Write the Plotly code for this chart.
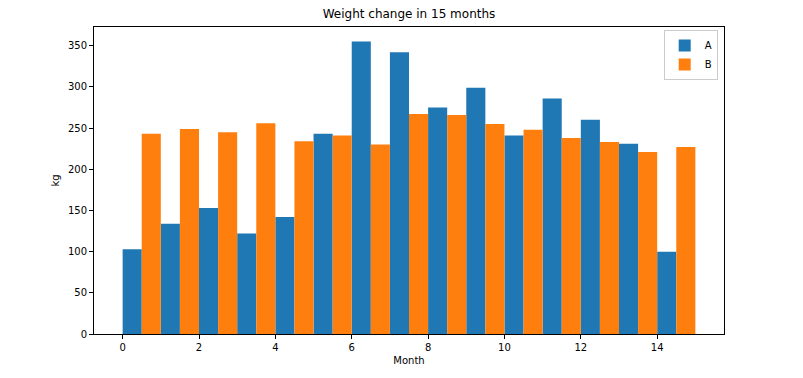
import plotly.graph_objects as go

months = list(range(15))
series_a = [103, 134, 153, 122, 142, 243, 355, 342, 275, 299, 241, 286, 260, 231, 100]
series_b = [243, 249, 245, 256, 234, 241, 230, 267, 266, 255, 248, 238, 233, 221, 227]
x_ticks = [0, 2, 4, 6, 8, 10, 12, 14]
y_ticks = [0, 50, 100, 150, 200, 250, 300, 350]

fig = go.Figure()
fig.add_trace(go.Bar(x=months, y=series_a, name="A", offset=0, width=0.5,
                     marker=dict(color="#1f77b4", line=dict(width=0))))
fig.add_trace(go.Bar(x=months, y=series_b, name="B", offset=0.5, width=0.5,
                     marker=dict(color="#ff7f0e", line=dict(width=0))))

axis_common = dict(showline=True, linecolor="black", linewidth=1, mirror=True,
                   ticks="outside", ticklen=4, tickcolor="black", showgrid=False,
                   zeroline=False, tickfont=dict(size=10, color="black"))

# page body has an 8px default margin, so the figure is sized to fit the window
fig.update_layout(
    width=795, height=370,
    margin=dict(l=86, r=79, t=19, b=44),
    paper_bgcolor="white", plot_bgcolor="white",
    barmode="overlay",
    font=dict(family="DejaVu Sans", size=10, color="black"),
    title=dict(text="Weight change in 15 months", x=(94 + 724) / 2 / 803 * 803 / 795 - 8 / 795,
               xanchor="center", y=1 - 6 / 370, yanchor="middle",
               font=dict(size=12, color="black")),
    xaxis=dict(range=[-0.75, 15.75], tickvals=x_ticks,
               title=dict(text="Month", font=dict(size=10), standoff=4), **axis_common),
    yaxis=dict(range=[0, 372.75], tickvals=y_ticks,
               title=dict(text="kg", font=dict(size=10), standoff=6), **axis_common),
    legend=dict(x=0.99, xanchor="right", y=0.99, yanchor="top",
                bordercolor="#cccccc", borderwidth=1, bgcolor="rgba(255,255,255,0.8)",
                font=dict(size=10), tracegroupgap=0, itemwidth=30),
    showlegend=True,
)

fig.write_html("out.html")
